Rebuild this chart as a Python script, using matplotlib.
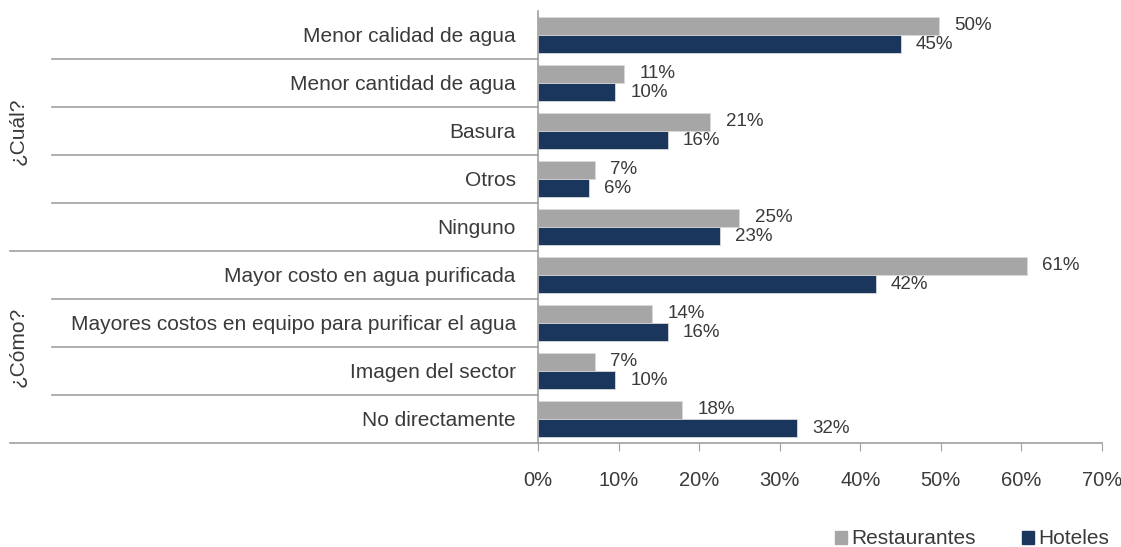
import numpy as np
import matplotlib.pyplot as plt
from matplotlib.patches import Patch

categories = [
    "Menor calidad de agua",
    "Menor cantidad de agua",
    "Basura",
    "Otros",
    "Ninguno",
    "Mayor costo en agua purificada",
    "Mayores costos en equipo para purificar el agua",
    "Imagen del sector",
    "No directamente",
]
restaurantes = [0.498, 0.107, 0.214, 0.071, 0.250, 0.607, 0.142, 0.071, 0.179]
hoteles = [0.450, 0.096, 0.161, 0.063, 0.226, 0.419, 0.161, 0.096, 0.322]
groups = ["¿Cuál?", "¿Cómo?"]
group_rows = [[0, 1, 2, 3, 4], [5, 6, 7, 8]]
xticks = [0, 0.1, 0.2, 0.3, 0.4, 0.5, 0.6, 0.7]

plt.rcParams["font.family"] = ["Liberation Sans", "DejaVu Sans"]
txt = "#3a3a3a"
grid = "#a0a0a0"
c_rest = "#a6a6a6"
c_hot = "#1b365d"

fig = plt.figure(figsize=(11.21, 5.47), dpi=100)
ax = fig.add_axes([538 / 1121, 1 - 443 / 547, 564 / 1121, 432 / 547])

y = np.arange(len(categories))
h = 0.385
ax.barh(y - h / 2, restaurantes, height=h, color=c_rest, edgecolor="#d9d9d9", linewidth=0.6)
ax.barh(y + h / 2, hoteles, height=h, color=c_hot, edgecolor="#d9d9d9", linewidth=0.6)

# value labels next to each bar end
for yi, r, ho in zip(y, restaurantes, hoteles):
    ax.annotate(f"{r:.0%}", (r, yi - h / 2), xytext=(11, 0), textcoords="offset points",
                va="center", ha="left", fontsize=13.5, color=txt)
    ax.annotate(f"{ho:.0%}", (ho, yi + h / 2), xytext=(11, 0), textcoords="offset points",
                va="center", ha="left", fontsize=13.5, color=txt)

ax.set_xlim(0, 0.7)
ax.set_ylim(len(categories) - 0.5, -0.5)
ax.set_xticks(xticks)
ax.set_xticklabels([f"{t:.0%}" for t in xticks], fontsize=14.5, color=txt)
ax.set_yticks(y)
ax.set_yticklabels(categories, fontsize=15, color=txt)
ax.tick_params(axis="y", length=0, pad=16)
ax.tick_params(axis="x", length=6, color=grid, pad=14)

for s in ["top", "right"]:
    ax.spines[s].set_visible(False)
for s in ["left", "bottom"]:
    ax.spines[s].set_color(grid)
    ax.spines[s].set_linewidth(1.2)

# separators between categories, longer ones between groups
ytr = ax.get_yaxis_transform()
for i in range(len(categories)):
    yy = i + 0.5
    start = -0.936 if (i == 4 or i == 8) else -0.862
    ax.plot([start, 0], [yy, yy], transform=ytr, color=grid, lw=1.2, clip_on=False)

for g, rows in zip(groups, group_rows):
    ax.text(-0.922, np.mean(rows), g, transform=ytr, rotation=90, ha="center", va="center",
            fontsize=15, color=txt)

handles = [Patch(color=c_rest), Patch(color=c_hot)]
fig.legend(handles, ["Restaurantes", "Hoteles"], loc="center", bbox_to_anchor=(972 / 1121, 8 / 547),
           ncol=2, frameon=False, fontsize=15, handlelength=0.6, handleheight=0.6,
           handletextpad=0.2, columnspacing=2.2, labelcolor=txt)

fig.savefig("out.png", dpi=100)
